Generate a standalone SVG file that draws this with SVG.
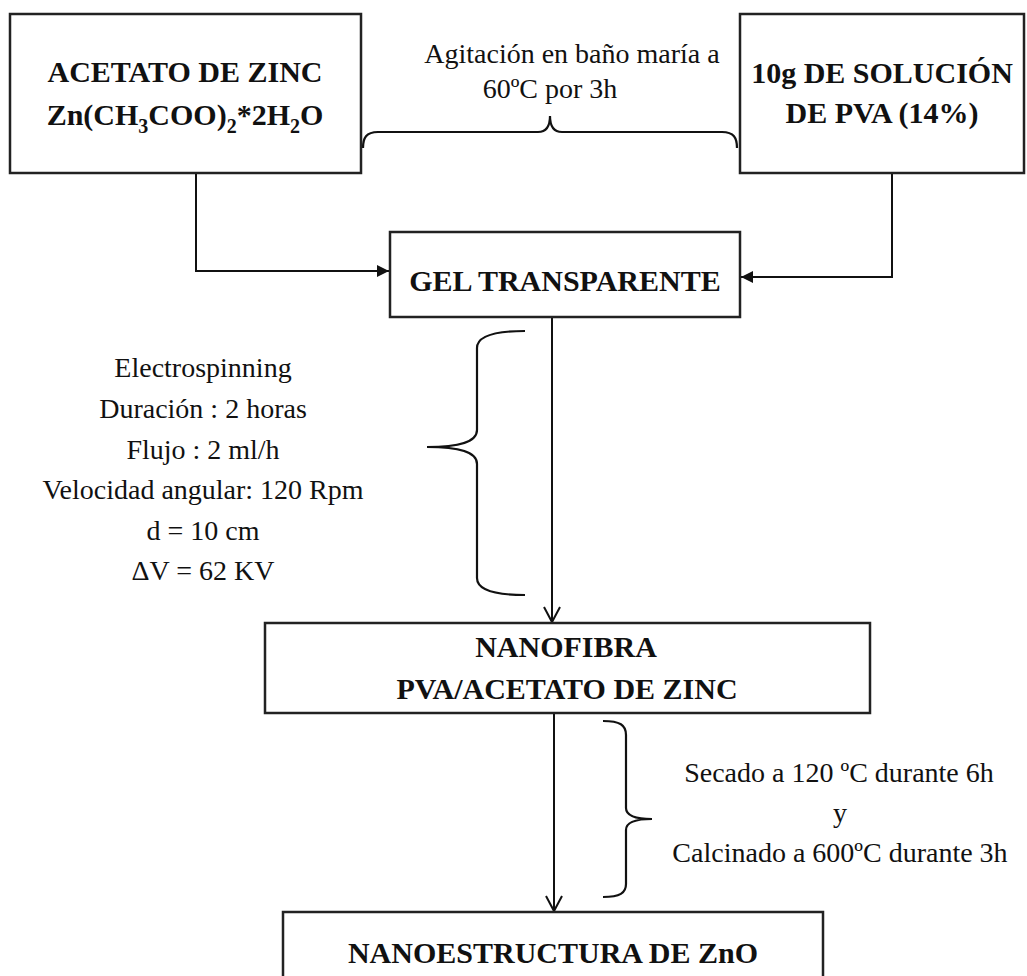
<svg xmlns="http://www.w3.org/2000/svg" width="1027" height="976" viewBox="0 0 1027 976">
<style>
.box{fill:#fff;stroke:#222;stroke-width:2.5}
.b{font-family:"Liberation Serif","Times New Roman",serif;font-weight:bold;font-size:30px;text-anchor:middle;fill:#111}
.r{font-family:"Liberation Serif","Times New Roman",serif;font-size:28px;text-anchor:middle;fill:#111}
.ln{fill:none;stroke:#111;stroke-width:2}
.br{fill:none;stroke:#111;stroke-width:2.2}
</style>
<defs>
<marker id="tri" viewBox="0 0 12 12" refX="12" refY="6" markerWidth="12" markerHeight="12" markerUnits="userSpaceOnUse" orient="auto">
<path d="M0,0 L12,6 L0,12 z" fill="#111"/>
</marker>
<marker id="vee" viewBox="-1 -1 18 18" refX="15" refY="8" markerWidth="18" markerHeight="18" markerUnits="userSpaceOnUse" orient="auto" overflow="visible">
<path d="M0,0 L15,8 L0,16" fill="none" stroke="#111" stroke-width="2"/>
</marker>
</defs>
<rect width="1027" height="976" fill="#fff"/>

<g id="connectors">
<path class="ln" d="M196,173 V271 H389" marker-end="url(#tri)"/>
<path class="ln" d="M892,173 V277 H741" marker-end="url(#tri)"/>
<path class="ln" d="M552,317 V622" marker-end="url(#vee)"/>
<path class="ln" d="M554,713 V911" marker-end="url(#vee)"/>
</g>

<g id="brace-top">
<path class="br" d="M363,148 C363,138 366,132 378,132 H538 C546,132 550,126 550,116 C550,126 554,132 562,132 H722 C734,132 737,138 737,148"/>
<text class="r" x="572" y="63">Agitación en baño maría a</text>
<text class="r" x="550" y="98">60ºC por 3h</text>
</g>

<g id="brace-electro">
<path class="br" d="M525,331 C495,331 477,336 477,348 V430 C477,442 460,447 427,447 C460,447 477,452 477,464 V578 C477,590 495,595 525,595"/>
<text class="r" x="203" y="377">Electrospinning</text>
<text class="r" x="203" y="418">Duración : 2 horas</text>
<text class="r" x="203" y="459">Flujo : 2 ml/h</text>
<text class="r" x="203" y="499">Velocidad angular: 120 Rpm</text>
<text class="r" x="203" y="540">d = 10 cm</text>
<text class="r" x="203" y="580">ΔV = 62 KV</text>
</g>

<g id="brace-secado">
<path class="br" d="M603,721 C620,721 626,725 626,735 V808 C626,815 635,819 652,819 C635,819 626,823 626,830 V884 C626,893 620,897 603,897"/>
<text class="r" x="839" y="782">Secado a 120 ºC durante 6h</text>
<text class="r" x="840" y="822">y</text>
<text class="r" x="840" y="862">Calcinado a 600ºC durante 3h</text>
</g>

<g id="node-acetato">
<rect class="box" x="10" y="14" width="351" height="159"/>
<text class="b" x="185" y="82">ACETATO DE ZINC</text>
<text class="b" x="185" y="125">Zn(CH<tspan font-size="20" dy="8">3</tspan><tspan dy="-8">COO)</tspan><tspan font-size="20" dy="8">2</tspan><tspan dy="-8">*2H</tspan><tspan font-size="20" dy="8">2</tspan><tspan dy="-8">O</tspan></text>
</g>

<g id="node-pva">
<rect class="box" x="740" y="14" width="284" height="159"/>
<text class="b" x="882" y="83">10g DE SOLUCIÓN</text>
<text class="b" x="882" y="123">DE PVA (14%)</text>
</g>

<g id="node-gel">
<rect class="box" x="390" y="232" width="350" height="85"/>
<text class="b" x="565" y="291">GEL TRANSPARENTE</text>
</g>

<g id="node-nanofibra">
<rect class="box" x="265" y="623" width="605" height="90"/>
<text class="b" x="566" y="657">NANOFIBRA</text>
<text class="b" x="567" y="699">PVA/ACETATO DE ZINC</text>
</g>

<g id="node-zno">
<rect class="box" x="283" y="912" width="540" height="90"/>
<text class="b" x="553" y="963">NANOESTRUCTURA DE ZnO</text>
</g>
</svg>
